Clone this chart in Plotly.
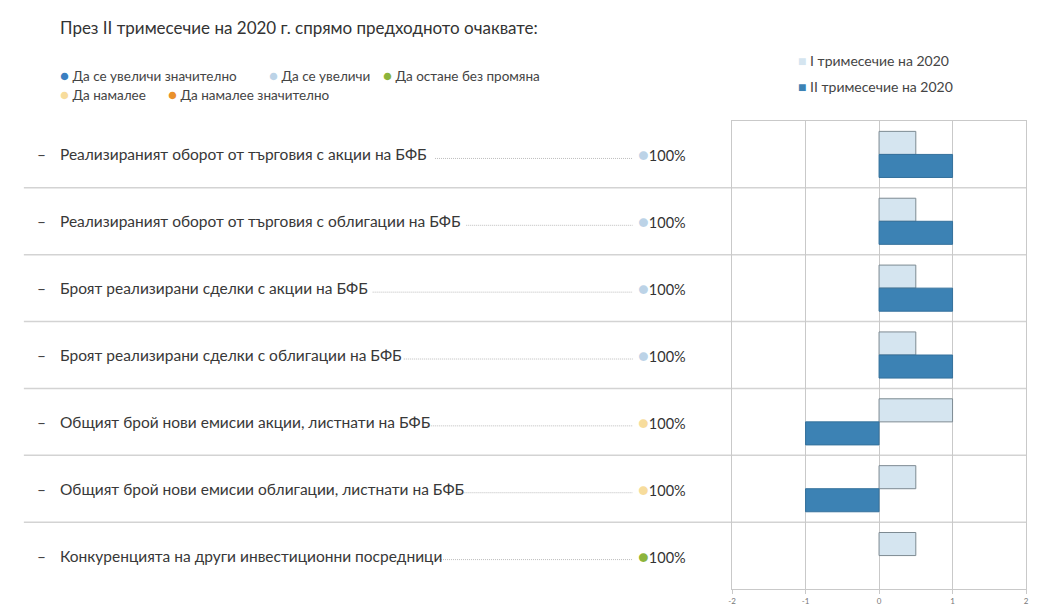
import plotly.graph_objects as go

# ---------------- data ----------------
title_text = "През II тримесечие на 2020 г. спрямо предходното очаквате:"
row_labels = [
    "Реализираният оборот от търговия с акции на БФБ",
    "Реализираният оборот от търговия с облигации на БФБ",
    "Броят реализирани сделки с акции на БФБ",
    "Броят реализирани сделки с облигации на БФБ",
    "Общият брой нови емисии акции, листнати на БФБ",
    "Общият брой нови емисии облигации, листнати на БФБ",
    "Конкуренцията на други инвестиционни посредници",
]
q1_values = [0.5, 0.5, 0.5, 0.5, 1, 0.5, 0.5]
q2_values = [1, 1, 1, 1, -1, -1, 0]
series_names = ["I тримесечие на 2020", "II тримесечие на 2020"]
answer_labels = ["Да се увеличи значително", "Да се увеличи", "Да остане без промяна",
                 "Да намалее", "Да намалее значително"]
row_answer = [1, 1, 1, 1, 3, 3, 2]       # index into answer_labels
row_share = [100, 100, 100, 100, 100, 100, 100]
x_ticks = [-2, -1, 0, 1, 2]

# ---------------- style ----------------
W, H = 1037, 612
FONT = "Lato"
answer_colors = ["#3b7fc1", "#bcd3e7", "#8cb43c", "#f7dc9c", "#e9912c"]
q1_fill, q1_line = "#d5e5f0", "#7d8a92"
q2_fill, q2_line = "#3c82b4", "#35719c"
grid_c = "#c9c9c9"

def px(x):
    return x / W

def py(y):
    return 1 - y / H

plot_l, plot_r, plot_t, plot_b = 733, 1029, 121, 589
rows = list(range(len(row_labels)))

fig = go.Figure()
fig.add_trace(go.Bar(y=rows, x=q1_values, orientation="h", name=series_names[0],
                     marker=dict(color=q1_fill, line=dict(color=q1_line, width=1)),
                     showlegend=False))
fig.add_trace(go.Bar(y=rows, x=q2_values, orientation="h", name=series_names[1],
                     marker=dict(color=q2_fill,
                                 line=dict(color=q2_line,
                                           width=[1 if v != 0 else 0 for v in q2_values])),
                     showlegend=False))

annotations = []
shapes = []

# title
annotations.append(dict(x=px(54), y=py(28), xref="paper", yref="paper", xanchor="left",
                        yanchor="middle", showarrow=False, text=title_text,
                        font=dict(family=FONT, size=17, color="#333333")))

# answer legend (dots)
leg_pos = [(54, 75), (265, 75), (380, 75), (54, 94), (163, 94)]
for (lx, ly), lab, col in zip(leg_pos, answer_labels, answer_colors):
    annotations.append(dict(x=px(lx), y=py(ly), xref="paper", yref="paper", xanchor="left",
                            yanchor="middle", showarrow=False,
                            text=f"<span style='color:{col};font-size:15px'>●</span> {lab}",
                            font=dict(family=FONT, size=13.5, color="#444444")))

# series legend (squares)
for (lx, ly), lab, col in zip([(797, 61), (797, 87)], series_names, [q1_fill, q2_fill]):
    annotations.append(dict(x=px(lx), y=py(ly), xref="paper", yref="paper", xanchor="left",
                            yanchor="middle", showarrow=False,
                            text=f"<span style='color:{col}'>■</span> {lab}",
                            font=dict(family=FONT, size=14, color="#444444")))

# row labels, leaders, dots
LBL = 15.5
cw = 7.85
for i, lab in enumerate(row_labels):
    annotations.append(dict(x=px(31), y=i, xref="paper", yref="y", xanchor="left",
                            yanchor="middle", showarrow=False, text="–",
                            font=dict(family=FONT, size=LBL, color="#444444")))
    annotations.append(dict(x=px(54), y=i, xref="paper", yref="y", xanchor="left",
                            yanchor="middle", showarrow=False, text=lab,
                            font=dict(family=FONT, size=LBL, color="#383838")))
    start = 60 + len(lab) * cw + 5
    shapes.append(dict(type="line", xref="paper", yref="y", x0=px(start), x1=px(633),
                       y0=i + 0.06, y1=i + 0.06,
                       line=dict(color="#bdbdbd", width=1, dash="1px,1px")))
    col = answer_colors[row_answer[i]]
    annotations.append(dict(x=px(636), y=i, xref="paper", yref="y", xanchor="left",
                            yanchor="middle", showarrow=False,
                            text=f"<span style='color:{col};font-size:18px'>●</span>{row_share[i]}%",
                            font=dict(family=FONT, size=14.5, color="#333333")))

# row separators
for i in rows[:-1]:
    shapes.append(dict(type="line", xref="paper", yref="y", x0=px(20), x1=px(plot_r),
                       y0=i + 0.5, y1=i + 0.5, line=dict(color="#d3d3d3", width=1.5),
                       layer="below"))

fig.update_layout(
    width=W, height=H,
    margin=dict(l=0, r=0, t=0, b=0),
    paper_bgcolor="white", plot_bgcolor="white",
    barmode="group", bargap=0.31, bargroupgap=0,
    showlegend=False,
    annotations=annotations, shapes=shapes,
    xaxis=dict(domain=[px(plot_l), px(plot_r)], range=[-2, 2], tickvals=x_ticks,
               ticktext=[str(t) for t in x_ticks], showgrid=True, gridcolor=grid_c,
               gridwidth=1, zeroline=False, showline=True, mirror=True, linecolor=grid_c,
               linewidth=1, ticks="outside", ticklen=4, tickcolor=grid_c,
               tickfont=dict(family=FONT, size=8, color="#777777"), fixedrange=True),
    yaxis=dict(domain=[py(plot_b), py(plot_t)], range=[6.5, -0.5], showticklabels=False,
               showgrid=False, zeroline=False, showline=True, mirror=True, linecolor=grid_c,
               linewidth=1, ticks="", fixedrange=True),
)

fig.write_html("out.html", config={"displayModeBar": False},
               post_script="document.body.style.margin='0';")
